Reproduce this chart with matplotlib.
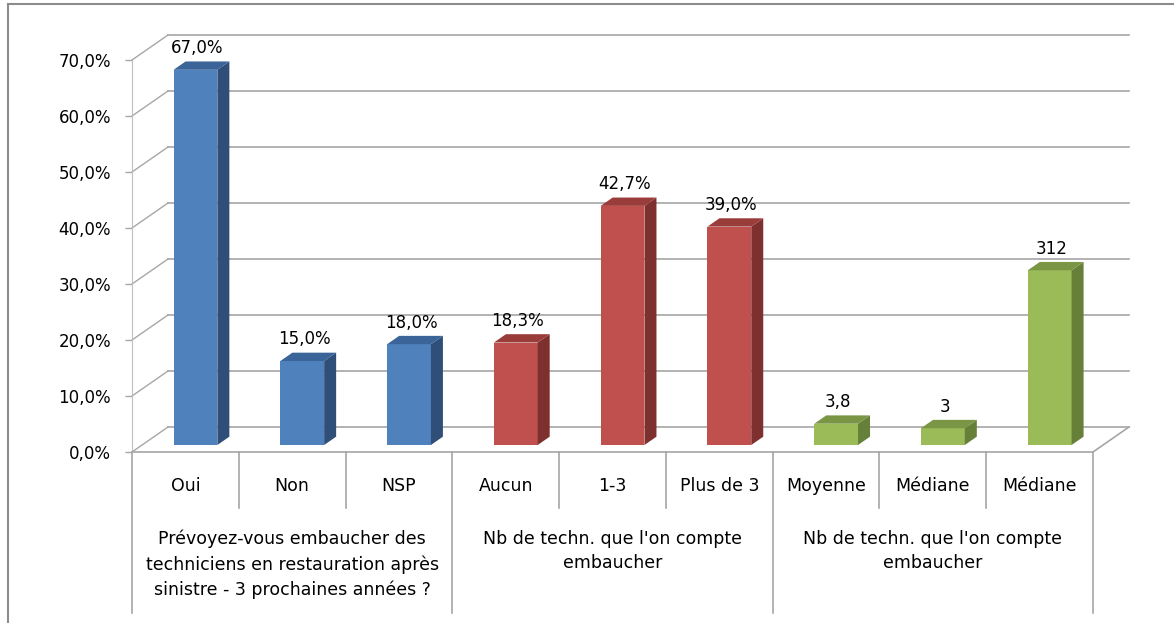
import numpy as np
import matplotlib
matplotlib.use("Agg")
import matplotlib.pyplot as plt
from matplotlib.patches import Polygon
from matplotlib.lines import Line2D

plt.rcParams['font.family'] = ['DejaVu Sans']

# data
categories = ['Oui', 'Non', 'NSP', 'Aucun', '1-3', 'Plus de 3', 'Moyenne', 'Médiane', 'Médiane']
values = [0.670, 0.150, 0.180, 0.183, 0.427, 0.390, 0.038, 0.030, 0.312]
value_labels = ['67,0%', '15,0%', '18,0%', '18,3%', '42,7%', '39,0%', '3,8', '3', '312']
groups = ['Prévoyez-vous embaucher des\ntechniciens en restauration après\nsinistre - 3 prochaines années ?',
          "Nb de techn. que l'on compte\nembaucher",
          "Nb de techn. que l'on compte\nembaucher"]
group_size = 3
yticks = [0.0, 0.1, 0.2, 0.3, 0.4, 0.5, 0.6, 0.7]

front = ['#4F81BD', '#C0504D', '#9BBB59']
side = ['#2F4E78', '#7E302E', '#66803A']
top = ['#3B6498', '#9A3D3A', '#7A9543']
grid_c = '#A6A6A6'

W, H = 1174, 623
fig = plt.figure(figsize=(W / 100, H / 100), dpi=100)
ax = fig.add_axes([132 / W, (H - 452) / H, 961 / W, 392 / H])
n = len(categories)
ax.set_xlim(-0.5, n - 0.5)
ax.set_ylim(0, 0.7)

# depth of the 3d box, in data units
px_x = 961 / n
px_y = 392 / 0.7
DX = 36 / px_x
DY = 25 / px_y
f0 = 0.28   # bar front position in depth
bd = 1 / 3  # bar depth
bw = 0.41

# back wall gridlines and side wall connectors
for v in yticks:
    ax.plot([-0.5 + DX, n - 0.5 + DX], [v + DY, v + DY], color=grid_c, lw=1.2, zorder=1, clip_on=False)
    ax.plot([-0.5, -0.5 + DX], [v, v + DY], color=grid_c, lw=1.0, zorder=1, clip_on=False)
# floor right edge
ax.plot([n - 0.5, n - 0.5 + DX], [0, DY], color=grid_c, lw=1.2, zorder=1, clip_on=False)

# bars
for i, v in enumerate(values):
    g = i // group_size
    x = i + f0 * DX
    b = f0 * DY
    ax.bar(x, v, width=bw, bottom=b, color=front[g], zorder=3, linewidth=0)
    xr = x + bw / 2
    xl = x - bw / 2
    ax.add_patch(Polygon([(xr, b), (xr, b + v), (xr + bd * DX, b + v + bd * DY), (xr + bd * DX, b + bd * DY)],
                         closed=True, facecolor=side[g], edgecolor='none', zorder=3, clip_on=False))
    ax.add_patch(Polygon([(xl, b + v), (xr, b + v), (xr + bd * DX, b + v + bd * DY), (xl + bd * DX, b + v + bd * DY)],
                         closed=True, facecolor=top[g], edgecolor='none', zorder=3, clip_on=False))
    ax.annotate(value_labels[i], (x + 0.02, b + v + bd * DY), xytext=(0, 9.5), textcoords='offset points',
                ha='center', va='center', fontsize=12, color='black', zorder=5, annotation_clip=False)

# axes styling
for s in ['top', 'right']:
    ax.spines[s].set_visible(False)
ax.spines['left'].set_color('#BFBFBF')
ax.spines['bottom'].set_color(grid_c)
ax.spines['bottom'].set_linewidth(1.2)
ax.set_xticks([])
ax.set_yticks(yticks)
ax.set_yticklabels([('%.1f%%' % (t * 100)).replace('.', ',') for t in yticks])
ax.tick_params(axis='y', length=5, width=1, color=grid_c, pad=10, labelsize=12)
ax.patch.set_alpha(0)

# category table under the axis
y_cat = -56 / px_y
y_grp = -161 / px_y
for k in range(1, n):
    if k % group_size == 0:
        continue
    ax.plot([k - 0.5, k - 0.5], [0, y_cat], color=grid_c, lw=1.2, clip_on=False, zorder=2)
for k in range(0, n + 1, group_size):
    ax.plot([k - 0.5, k - 0.5], [0, y_grp], color=grid_c, lw=1.2, clip_on=False, zorder=2)
for i, c in enumerate(categories):
    ax.text(i, -34 / px_y, c, ha='center', va='center', fontsize=12.5, clip_on=False)
for j, gname in enumerate(groups):
    xc = j * group_size + (group_size - 1) / 2
    ax.text(xc, -78 / px_y, gname, ha='center', va='top', fontsize=12.5, linespacing=1.45, clip_on=False)

# chart border (top and left visible)
fig.add_artist(Line2D([8 / W, 1], [1 - 4 / H, 1 - 4 / H], color='#8C8C8C', lw=1.5))
fig.add_artist(Line2D([8 / W, 8 / W], [0, 1 - 4 / H], color='#8C8C8C', lw=1.5))

fig.savefig('out.png', dpi=100)
